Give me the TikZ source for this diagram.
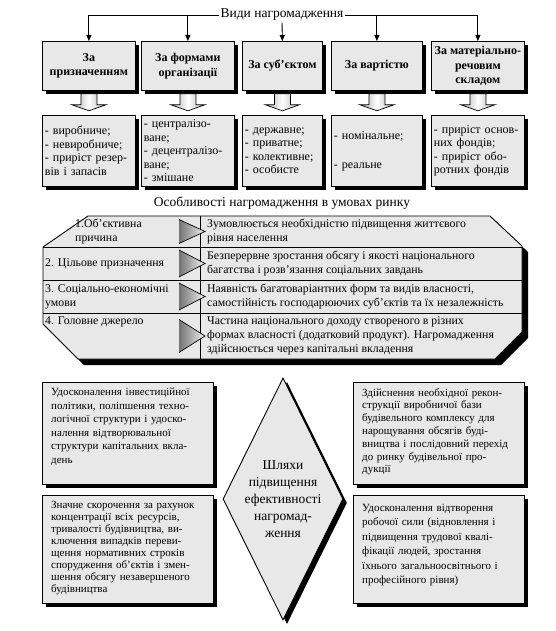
\documentclass[tikz,border=0pt]{standalone}
\usepackage{fontspec}
\setmainfont{Liberation Serif}
\usetikzlibrary{shapes.geometric,shadows,arrows.meta}
\definecolor{boxfill}{gray}{0.91}
\newcommand\jl[2]{\makebox[#1][s]{#2}\\}
\begin{document}
\begin{tikzpicture}[x=1pt,y=-1pt,
  shd/.style={drop shadow={shadow xshift=4pt,shadow yshift=-4pt,fill=black,opacity=1}},
  hdr/.style={shd,draw=black,line width=0.8pt,fill=boxfill,align=center,inner sep=1pt,
     anchor=north west,minimum height=49pt,
     font=\fontsize{12}{14.5}\selectfont\bfseries},
  lst/.style={shd,draw=black,line width=0.8pt,fill=boxfill,align=left,inner xsep=2.5pt,inner ysep=0pt,
     anchor=north west,minimum height=71pt,
     font=\fontsize{12}{13.5}\selectfont},
  link/.style={line width=0.9pt,-{Triangle[length=6pt,width=5pt]}},
  rowtxt/.style={font=\fontsize{11.8}{14}\selectfont,align=left,inner sep=0pt,anchor=west},
  pbox/.style={shd,draw=black,line width=0.8pt,fill=boxfill,anchor=north west,inner sep=0pt,minimum width=171pt},
  ptext/.style={anchor=north west,inner sep=0pt,align=left,text width=153pt,font=\fontsize{11}{13.5}\selectfont},
  hollow/.style={draw=black,line width=0.7pt,left color=gray!65,right color=gray!65,middle color=white},
  tri/.style={left color=gray!90!black,right color=gray!10}
]
\useasboundingbox (0,0) rectangle (556,631);

% title and top level
\node[font=\fontsize{13.5}{15}\selectfont,inner sep=1.5pt] (title) at (282,15) {Види нагромадження};

\node[hdr,minimum width=93pt] (h1) at (42,41) {За\\призначенням};
\node[hdr,minimum width=93pt] (h2) at (141,41) {За формами\\організації};
\node[hdr,minimum width=80pt] (h3) at (242,41) {За суб’єктом};
\node[hdr,minimum width=91pt] (h4) at (331,41) {За вартістю};
\node[hdr,minimum width=93pt] (h5) at (431,41) {За матеріально-\\речовим\\складом};

\draw[link] (title.west) -| (h1.north);
\draw[link] (title.west) -| (h2.north);
\draw[link] (title.south) -- (h3.north);
\draw[link] (title.east) -| (h4.north);
\draw[link] (title.east) -| (h5.north);

\node[lst,text width=88pt] (s1) at (42,115) {- виробниче;\\- невиробниче;\\- приріст резер-\\вів і запасів};
\node[lst,text width=88pt] (s2) at (141,115) {- централізо-\\ване;\\- децентралізо-\\ване;\\- змішане};
\node[lst,text width=75pt] (s3) at (242,115) {- державне;\\- приватне;\\- колективне;\\- особисте};
\node[lst,text width=86pt] (s4) at (331,115) {- номінальне;\\[15.5pt]- реальне};
\node[lst,text width=88pt] (s5) at (431,115) {\mbox{- приріст основ-}\\них фондів;\\- приріст обо-\\ротних фондів};

\foreach \i in {1,...,5}{
  \begin{scope}[shift={(h\i.south)}]
    \draw[hollow] (-8,3) -- (8,3) -- (8,14) -- (17,14) -- (0,20) -- (-17,14) -- (-8,14) -- cycle;
  \end{scope}
}

% market features block
\node[font=\fontsize{13.5}{15}\selectfont,inner sep=0pt] (sub) at (282,203) {Особливості нагромадження в умовах ринку};

\fill[black,shift={(6,6)}] (88,216) -- (490,216) -- (522,246) -- (522,332) -- (495,359) -- (78,359) -- (43,324) -- (43,247) -- cycle;
\draw[fill=boxfill,line width=0.9pt] (88,216) -- (490,216) -- (522,246) -- (522,332) -- (495,359) -- (78,359) -- (43,324) -- (43,247) -- cycle;
\draw[line width=0.8pt] (43,247) -- (522,247) (43,280) -- (522,280) (43,313) -- (522,313) (200,216) -- (200,359);

\foreach \c/\h in {231.5/12,263.5/13.5,296.5/13.5,336/16.5}{
  \shade[tri] (179,{\c-\h}) -- (205,\c) -- (179,{\c+\h}) -- cycle;
  \draw[line width=0.7pt] (179,{\c-\h}) -- (205,\c) -- (179,{\c+\h});
}

\node[rowtxt] (l1) at (75,231.5) {1.Об’єктивна\\причина};
\node[rowtxt] (l2) at (45,263.5) {2. Цільове призначення};
\node[rowtxt] (l3) at (45,296.5) {3. Соціально-економічні\\умови};
\node[rowtxt,anchor=north west] (l4) at (45,317) {4. Головне джерело};

\node[rowtxt] (r1) at (207,231.5) {Зумовлюється необхідністю підвищення життєвого\\рівня населення};
\node[rowtxt] (r2) at (207,263.5) {Безперервне зростання обсягу і якості національного\\багатства і розв’язання соціальних завдань};
\node[rowtxt] (r3) at (207,296.5) {Наявність багатоваріантних форм та видів власності,\\самостійність господарюючих суб’єктів та їх незалежність};
\node[rowtxt] (r4) at (207,336) {Частина національного доходу створеного в різних\\формах власності (додатковий продукт). Нагромадження\\здійснюється через капітальні вкладення};

% ways block
\node[diamond,aspect=0.5,shd,draw=black,line width=0.9pt,fill=boxfill,minimum width=120pt,minimum height=242pt,
  inner sep=0pt,align=center,font=\fontsize{13.5}{17}\selectfont] (dia) at (283,499)
  {Шляхи\\підвищення\\ефективності\\нагромад-\\ження};

\node[pbox,minimum height=102pt] (pa) at (42,382) {};
\node[pbox,minimum height=108pt] (pb) at (42,495) {};
\node[pbox,minimum height=102pt] (pc) at (353,382) {};
\node[pbox,minimum height=108pt] (pd) at (353,495) {};

\node[ptext] (ta) at ([xshift=9pt,yshift=-6pt]pa.north west) {%
\jl{153pt}{Удосконалення інвестиційної}%
\jl{153pt}{політики, поліпшення техно-}%
\jl{153pt}{логічної структури і удоско-}%
\jl{153pt}{налення відтворювальної}%
\jl{153pt}{структури капітальних вкла-}%
день};
\node[ptext,font=\fontsize{11}{12}\selectfont] (tb) at ([xshift=9pt,yshift=-6pt]pb.north west) {%
\jl{153pt}{Значне скорочення за рахунок}%
\jl{153pt}{концентрації всіх ресурсів,}%
\jl{153pt}{тривалості будівництва, ви-}%
\jl{153pt}{ключення випадків переви-}%
\jl{153pt}{щення нормативних строків}%
\jl{153pt}{спорудження об’єктів і змен-}%
\jl{153pt}{шення обсягу незавершеного}%
будівництва};
\node[ptext,font=\fontsize{11}{12.8}\selectfont] (tc) at ([xshift=9pt,yshift=-6pt]pc.north west) {%
\jl{153pt}{Здійснення необхідної рекон-}%
\jl{153pt}{струкції виробничої бази}%
\jl{153pt}{будівельного комплексу для}%
\jl{153pt}{нарощування обсягів буді-}%
\jl{153pt}{вництва і послідовний перехід}%
\jl{153pt}{до ринку будівельної про-}%
дукції};
\node[ptext,font=\fontsize{11}{14.5}\selectfont] (td) at ([xshift=9pt,yshift=-9pt]pd.north west) {%
\jl{153pt}{Удосконалення відтворення}%
\jl{153pt}{робочої сили (відновлення і}%
\jl{153pt}{підвищення трудової квалі-}%
\jl{153pt}{фікації людей, зростання}%
\jl{153pt}{їхнього загальноосвітнього і}%
професійного рівня)};
\end{tikzpicture}
\end{document}
